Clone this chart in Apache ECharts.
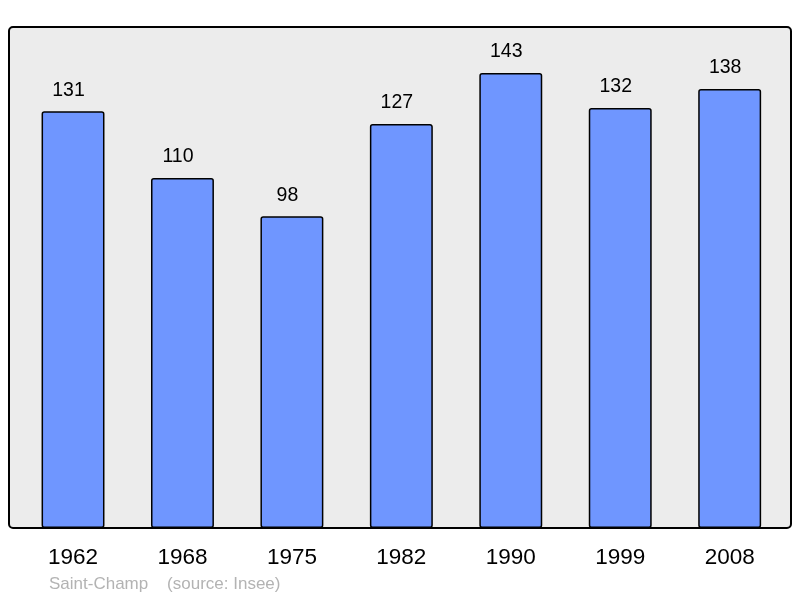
<!DOCTYPE html>
<html>
<head>
<meta charset="utf-8">
<script src="https://cdn.jsdelivr.net/npm/echarts@6/dist/echarts.min.js"></script>
<style>
    html, body { margin: 0; padding: 0; background: #fff; }
    #chart { width: 800px; height: 598px; }
</style>
</head>
<body>
<div id="chart"></div>
<script>
    // population by census year
    var years = ['1962', '1968', '1975', '1982', '1990', '1999', '2008'];
    var population = [131, 110, 98, 127, 143, 132, 138];
    var footer = 'Saint-Champ    (source: Insee)';

    var chart = echarts.init(document.getElementById('chart'));
    chart.setOption({
        animation: false,
        textStyle: { fontFamily: 'Liberation Sans, Arial, sans-serif' },
        graphic: [
            {
                type: 'rect',
                z: -10,
                shape: { x: 9, y: 27, width: 782, height: 501, r: 4 },
                style: { fill: '#ececec', stroke: '#000', lineWidth: 2 }
            },
            {
                type: 'text',
                left: 49,
                top: 576,
                style: { text: footer, fill: '#b3b3b3', font: '17px Liberation Sans, Arial, sans-serif' }
            }
        ],
        grid: { left: 18.3, right: 15.6, top: 27, bottom: 70 },
        xAxis: {
            type: 'category',
            data: years,
            axisLine: { show: false },
            axisTick: { show: false },
            axisLabel: { color: '#000', fontSize: 22.5, margin: 18 }
        },
        yAxis: {
            type: 'value',
            min: 0,
            max: 157.5,
            show: false,
            splitLine: { show: false }
        },
        series: [{
            type: 'bar',
            data: population,
            barWidth: '57.5%',
            itemStyle: { color: '#6f96ff', borderColor: '#000', borderWidth: 1.5, borderRadius: 2 },
            label: { show: true, position: 'top', distance: 11, offset: [-4.5, 0], color: '#000', fontSize: 19.5 }
        }]
    });
</script>
</body>
</html>
